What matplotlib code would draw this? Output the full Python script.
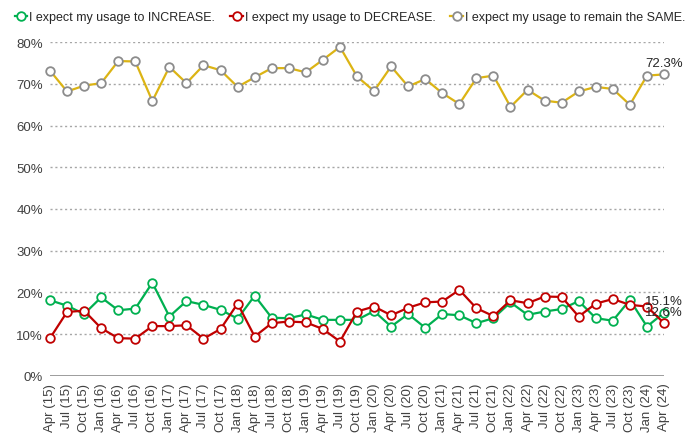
import matplotlib.pyplot as plt
import numpy as np

# Quarterly survey waves, Apr 2015 to Apr 2024
quarters = ["Apr (15)", "Jul (15)", "Oct (15)",
            "Jan (16)", "Apr (16)", "Jul (16)", "Oct (16)",
            "Jan (17)", "Apr (17)", "Jul (17)", "Oct (17)",
            "Jan (18)", "Apr (18)", "Jul (18)", "Oct (18)",
            "Jan (19)", "Apr (19)", "Jul (19)", "Oct (19)",
            "Jan (20)", "Apr (20)", "Jul (20)", "Oct (20)",
            "Jan (21)", "Apr (21)", "Jul (21)", "Oct (21)",
            "Jan (22)", "Apr (22)", "Jul (22)", "Oct (22)",
            "Jan (23)", "Apr (23)", "Jul (23)", "Oct (23)",
            "Jan (24)", "Apr (24)"]

increase = [18.1, 16.8, 14.8, 18.8, 15.7, 16.1, 22.3, 14.2, 17.9, 17.0,
            15.8, 13.7, 19.2, 13.9, 13.8, 14.7, 13.4, 13.4, 13.4, 15.5,
            11.8, 14.8, 11.5, 14.8, 14.5, 12.6, 13.8, 17.6, 14.6, 15.4,
            16.0, 17.9, 13.8, 13.2, 18.2, 11.8, 15.1]

decrease = [9.0, 15.3, 15.6, 11.4, 9.0, 8.9, 11.9, 11.9, 12.1, 8.9,
            11.2, 17.3, 9.4, 12.6, 13.0, 12.8, 11.2, 8.2, 15.4, 16.6,
            14.5, 16.3, 17.6, 17.8, 20.6, 16.2, 14.3, 18.1, 17.4, 19.0,
            18.9, 14.2, 17.3, 18.4, 17.0, 16.6, 12.6]

same = [73.2, 68.2, 69.6, 70.2, 75.5, 75.4, 65.9, 74.1, 70.2, 74.5,
        73.3, 69.3, 71.6, 73.8, 73.8, 72.8, 75.8, 78.9, 71.8, 68.3,
        74.2, 69.4, 71.2, 67.8, 65.2, 71.4, 72.0, 64.5, 68.6, 66.0,
        65.5, 68.2, 69.3, 68.8, 65.0, 72.0, 72.3]

series = [
    ("I expect my usage to INCREASE.", increase, "#00b050", "#00b050"),
    ("I expect my usage to DECREASE.", decrease, "#c00000", "#c00000"),
    ("I expect my usage to remain the SAME.", same, "#dcb414", "#8c8c8c"),
]

plt.rcParams["font.family"] = ["Liberation Sans", "DejaVu Sans"]

fig = plt.figure(figsize=(6.85, 4.35), dpi=100)
ax = fig.add_axes([50 / 685, 1 - 376.7 / 435, 614 / 685, 333.4 / 435])

x = np.arange(len(quarters))
for label, vals, col, edge in series:
    ax.plot(x, vals, color=col, lw=1.6, marker="o", ms=6.2,
            mfc="white", mec=edge, mew=1.3, label=label, clip_on=False, zorder=3)
    ax.annotate(f"{vals[-1]:.1f}%", (x[-1], vals[-1]), xytext=(0, 4),
                textcoords="offset points", ha="center", va="bottom",
                fontsize=9.5, color="#262626", zorder=4)

ax.set_xlim(0, len(quarters) - 1)
ax.set_ylim(0, 80)
ax.set_yticks(range(0, 81, 10))
ax.set_yticklabels([f"{v}%" for v in range(0, 81, 10)])
ax.set_xticks(x)
ax.set_xticklabels(quarters, rotation=90)
ax.tick_params(length=0, labelsize=9.5, colors="#404040", pad=5)

for v in range(10, 81, 10):
    ax.axhline(v, color="#a6a6a6", lw=1, ls=(0, (1.5, 2)), zorder=1)
ax.axhline(0, color="#808080", lw=1.8, zorder=2)

for s in ax.spines.values():
    s.set_visible(False)

ax.legend(loc="upper left", bbox_to_anchor=(-40 / 614, 1 + 36 / 333.4),
          ncol=3, frameon=False, fontsize=9, handlelength=1.0,
          handletextpad=0.15, columnspacing=1.2, borderaxespad=0,
          labelcolor="#262626")

fig.savefig("out.png", dpi=100)
